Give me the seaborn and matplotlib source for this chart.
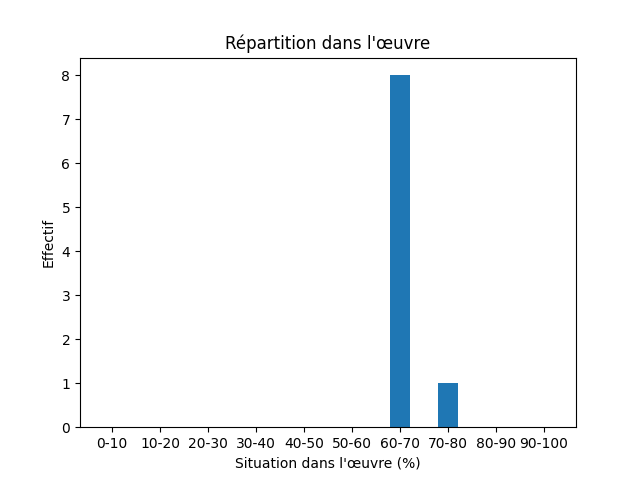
import matplotlib
matplotlib.use("Agg")
import matplotlib.pyplot as plt
import seaborn as sns
import pandas as pd

categories = ["0-10", "10-20", "20-30", "30-40", "40-50", "50-60", "60-70", "70-80", "80-90", "90-100"]
counts = [0, 0, 0, 0, 0, 0, 8, 1, 0, 0]

df = pd.DataFrame({"cat": categories, "n": counts})

fig, ax = plt.subplots(figsize=(6.4, 4.8), dpi=100)
sns.barplot(data=df, x="cat", y="n", order=categories, color="#1f77b4",
            saturation=1, width=0.4, ax=ax)
w = 0.4
span = (len(categories) - 1) + w
ax.set_xlim(-w / 2 - 0.05 * span, len(categories) - 1 + w / 2 + 0.05 * span)
ax.set_ylim(0, 8.4)
ax.set_title("Répartition dans l'œuvre")
ax.set_xlabel("Situation dans l'œuvre (%)")
ax.set_ylabel("Effectif")
fig.savefig("out.png", dpi=100)
